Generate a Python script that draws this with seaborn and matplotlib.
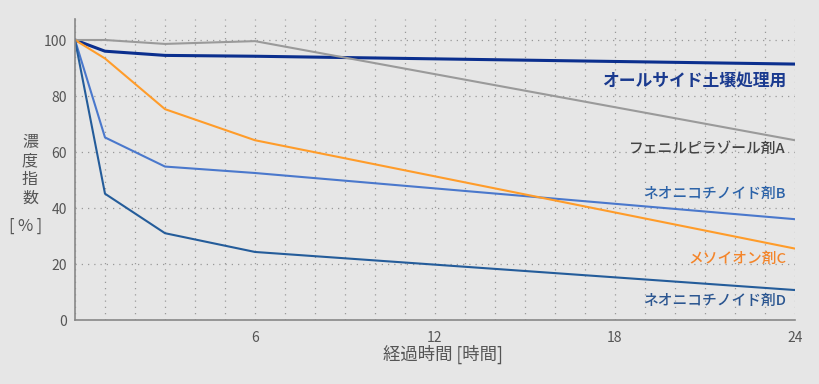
import numpy as np
import pandas as pd
import matplotlib
matplotlib.use("Agg")
import matplotlib.pyplot as plt
import seaborn as sns
from matplotlib.ticker import MultipleLocator

# ─── DATA ────────────────────────────────────────────────────────────────
hours = [0, 1, 3, 6, 24]
all_side = [100, 96.0, 94.5, 94.2, 91.4]
agent_a = [100, 100, 98.6, 99.6, 64.2]
agent_b = [100, 65.2, 54.8, 52.5, 36.0]
agent_c = [100, 93.4, 75.3, 64.2, 25.5]
agent_d = [100, 45.1, 31.0, 24.3, 10.7]

labels = ["オールサイド土壌処理用", "フェニルピラゾール剤A", "ネオニコチノイド剤B",
          "メソイオン剤C", "ネオニコチノイド剤D"]
series = [all_side, agent_a, agent_b, agent_c, agent_d]
label_y = [85.5, 61, 45, 22, 7]

line_colors = ["#0b2f8e", "#9a9a9a", "#4a78cc", "#ff9c2a", "#245c9a"]
text_colors = ["#1a3a8f", "#444444", "#2b62a8", "#f4852a", "#2a5590"]
widths = [2.2, 1.5, 1.5, 1.5, 1.5]
label_weight = [600, 500, 500, 500, 500]
label_size = [12.1, 10.6, 10.6, 10.6, 10.6]

# ─── PLOT ────────────────────────────────────────────────────────────────
sns.set_style("white")
plt.rcParams["font.family"] = ["Noto Sans CJK JP", "DejaVu Sans"]
bg = "#e6e6e6"

fig = plt.figure(figsize=(8.19, 3.84), dpi=100, facecolor=bg)
ax = fig.add_axes([75 / 819, 64 / 384, 720 / 819, 301 / 384])
ax.set_facecolor(bg)

for vals, color, lw in zip(series, line_colors, widths):
    df = pd.DataFrame({"h": hours, "v": vals})
    sns.lineplot(data=df, x="h", y="v", color=color, linewidth=lw, ax=ax)

for name, ty, c, w, s in zip(labels, label_y, text_colors, label_weight, label_size):
    ax.text(23.7, ty, name, color=c, fontsize=s, fontweight=w,
            ha="right", va="center")

ax.set_xlim(0, 24)
ax.set_ylim(0, 107.5)
ax.set_xticks([6, 12, 18, 24])
ax.xaxis.set_minor_locator(MultipleLocator(1))
ax.set_yticks([0, 20, 40, 60, 80, 100])
ax.grid(True, which="both", axis="x", linestyle=(0, (1, 4)), color="#999999", linewidth=0.9)
ax.grid(True, which="major", axis="y", linestyle=(0, (1, 4)), color="#999999", linewidth=0.9)
ax.tick_params(axis="both", which="both", length=0, labelsize=10, labelcolor="#555555")
ax.tick_params(axis="x", pad=8)
ax.tick_params(axis="y", pad=6)

for sp in ["top", "right"]:
    ax.spines[sp].set_visible(False)
for sp in ["left", "bottom"]:
    ax.spines[sp].set_color("#888888")
    ax.spines[sp].set_linewidth(1.2)

ax.set_xlabel("経過時間 [時間]", fontsize=12.5, color="#555555")
ax.xaxis.set_label_coords(0.511, -0.083)
ax.set_ylabel("")
fig.text(30 / 819, 1 - 170 / 384, "濃\n度\n指\n数", fontsize=11.5, color="#555555",
         ha="center", va="center", linespacing=1.15)
fig.text(26 / 819, 1 - 226 / 384, "[\u2009%\u2009]", fontsize=12, color="#555555",
         ha="center", va="center")

fig.savefig("out.png", dpi=100, facecolor=bg)
